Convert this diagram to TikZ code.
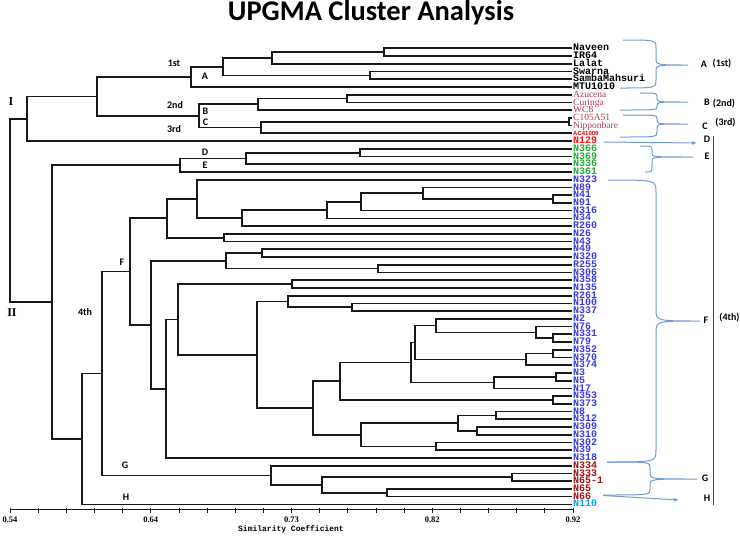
\documentclass[tikz,border=0pt]{standalone}
\usepackage{fontspec}
\setmainfont{Liberation Serif}
\newfontfamily\lmono{Liberation Mono}
\newfontfamily\carl{Carlito}
\newfontfamily\lsans{Liberation Sans}
\usetikzlibrary{calc,arrows.meta}
\definecolor{treec}{RGB}{25,25,25}
\definecolor{brc}{RGB}{115,155,212}
\definecolor{cazu}{RGB}{172,62,78}
\definecolor{cac}{RGB}{225,0,0}
\definecolor{cred}{RGB}{250,20,20}
\definecolor{cgrn}{RGB}{35,170,55}
\definecolor{cblu}{RGB}{60,60,222}
\definecolor{cdrd}{RGB}{160,18,18}
\definecolor{ccyn}{RGB}{0,168,238}
\tikzset{
  edge/.style={draw=treec, line width=1.7pt},
  leaf/.style={anchor=west, inner sep=0pt, xshift=1pt, text height=5.6pt, text depth=0.4pt},
  lblk/.style={font=\lmono\bfseries\fontsize{10}{10}\selectfont, text=black},
  lazu/.style={font=\fontsize{9.5}{9.5}\selectfont, text=cazu},
  lac/.style={font=\lsans\bfseries\fontsize{6}{6}\selectfont, text=cac, text height=4.3pt},
  lred/.style={font=\lmono\bfseries\fontsize{10}{10}\selectfont, text=cred},
  lgrn/.style={font=\lmono\bfseries\fontsize{10}{10}\selectfont, text=cgrn},
  lblu/.style={font=\lmono\bfseries\fontsize{10}{10}\selectfont, text=cblu},
  ldrd/.style={font=\lmono\bfseries\fontsize{10}{10}\selectfont, text=cdrd},
  lcyn/.style={font=\lmono\bfseries\fontsize{10}{10}\selectfont, text=ccyn},
  glab/.style={font=\carl\bfseries\fontsize{10}{10}\selectfont, inner sep=0pt},
  rlab/.style={font=\carl\bfseries\fontsize{10}{10}\selectfont, inner sep=0pt},
  roman/.style={font=\bfseries\fontsize{12}{12}\selectfont, inner sep=0pt},
  brace/.style={draw=brc, line width=1pt},
  arr/.style={draw=brc, line width=1pt, -{Latex[length=5pt,width=4pt]}},
  ticklab/.style={font=\bfseries\fontsize{8.5}{8.5}\selectfont, inner sep=0pt},
  axlab/.style={font=\lmono\bfseries\fontsize{8}{8}\selectfont, inner sep=0pt},
  title/.style={font=\carl\bfseries\fontsize{28.5}{28.5}\selectfont, inner sep=0pt}
}
\newcommand{\dgjoin}[4]{%
  \coordinate (m#1) at ($(#3)!0.5!(#4)$);
  \coordinate (#1) at (#2,0 |- m#1);
  \draw[edge] (#3) -| (#1) |- (#4);
}
\begin{document}
\begin{tikzpicture}[x=1pt,y=-1pt]
\fill[white] (0,0) rectangle (740,539);
\useasboundingbox (0,0) rectangle (740,539);
\node[title] (ttl) at (371,13) {UPGMA Cluster Analysis};
\foreach \i in {0,...,59} {\coordinate (L\i) at (572,{48.3+7.73*\i});}
% cluster I
\dgjoin{a1}{384}{L0}{L1}
\dgjoin{a2}{272}{a1}{L2}
\dgjoin{a3}{370}{L3}{L4}
\dgjoin{a4}{223}{a2}{a3}
\dgjoin{nA}{191}{a4}{L5}
\dgjoin{b1}{347}{L6}{L7}
\dgjoin{nB}{258}{b1}{L8}
\dgjoin{c1}{569}{L9}{L10}
\dgjoin{nC}{261}{c1}{L11}
\dgjoin{nBC}{199}{nB}{nC}
\dgjoin{a5}{97}{nA}{nBC}
\dgjoin{nI}{27}{a5}{L12}
% cluster E
\dgjoin{e1}{360}{L13}{L14}
\dgjoin{e2}{246}{e1}{L15}
\dgjoin{nE}{180}{e2}{L16}
% cluster F
\dgjoin{f1}{553}{L19}{L20}
\dgjoin{f2}{423}{L18}{f1}
\dgjoin{f3}{361}{f2}{L21}
\dgjoin{f4}{327}{f3}{L22}
\dgjoin{f5}{242}{f4}{L23}
\dgjoin{f6}{197}{L17}{f5}
\dgjoin{f7}{224}{L24}{L25}
\dgjoin{f8}{167}{f6}{f7}
\dgjoin{f9}{262}{L26}{L27}
\dgjoin{f10}{378}{L28}{L29}
\dgjoin{f11}{226}{f9}{f10}
\dgjoin{f12}{292}{L30}{L31}
\dgjoin{f13}{352}{L33}{L34}
\dgjoin{f14}{288}{L32}{f13}
\dgjoin{g1}{553}{L37}{L38}
\dgjoin{g2}{536}{L36}{g1}
\dgjoin{g3}{436}{L35}{g2}
\dgjoin{g4}{553}{L39}{L40}
\dgjoin{g5}{526}{g4}{L41}
\dgjoin{g6}{415}{g3}{g5}
\dgjoin{g7}{556}{L42}{L43}
\dgjoin{g8}{494}{g7}{L44}
\dgjoin{g9}{411}{g6}{g8}
\dgjoin{g10}{553}{L45}{L46}
\dgjoin{g11}{340}{g9}{g10}
\dgjoin{h1}{496}{L47}{L48}
\dgjoin{h2}{477}{L49}{L50}
\dgjoin{h3}{458}{h1}{h2}
\dgjoin{h4}{436}{L51}{L52}
\dgjoin{h5}{361}{h3}{h4}
\dgjoin{h6}{313}{g11}{h5}
\dgjoin{h7}{257}{f14}{h6}
\dgjoin{h8}{178}{f12}{h7}
\dgjoin{h9}{166}{h8}{L53}
\dgjoin{h10}{151}{f11}{h9}
\dgjoin{nF}{130}{f8}{h10}
% cluster G
\dgjoin{k1}{512}{L55}{L56}
\dgjoin{k2}{387}{L57}{L58}
\dgjoin{k3}{322}{k1}{k2}
\dgjoin{nG}{271}{L54}{k3}
\dgjoin{nFG}{102}{nF}{nG}
\dgjoin{nH}{82}{nFG}{L59}
\dgjoin{nII}{52}{nE}{nH}
\dgjoin{nroot}{10}{nI}{nII}
% leaf labels
\foreach \i/\t/\s in {0/Naveen/lblk,1/IR64/lblk,2/Lalat/lblk,3/Swarna/lblk,4/SambaMahsuri/lblk,5/MTU1010/lblk,
 6/Azucena/lazu,7/Curinga/lazu,8/WC8/lazu,9/C105A51/lazu,10/Nipponbare/lazu,11/AC41009/lac,12/N129/lred,
 13/N366/lgrn,14/N369/lgrn,15/N336/lgrn,16/N361/lgrn,
 17/N323/lblu,18/N89/lblu,19/N41/lblu,20/N91/lblu,21/N316/lblu,22/N34/lblu,23/R260/lblu,24/N26/lblu,25/N43/lblu,
 26/N49/lblu,27/N320/lblu,28/R255/lblu,29/N306/lblu,30/N358/lblu,31/N135/lblu,32/R261/lblu,33/N100/lblu,34/N337/lblu,
 35/N2/lblu,36/N76/lblu,37/N331/lblu,38/N79/lblu,39/N352/lblu,40/N370/lblu,41/N374/lblu,42/N3/lblu,43/N5/lblu,
 44/N17/lblu,45/N353/lblu,46/N373/lblu,47/N8/lblu,48/N312/lblu,49/N309/lblu,50/N310/lblu,51/N302/lblu,52/N39/lblu,
 53/N318/lblu,54/N334/ldrd,55/N333/ldrd,56/N65-1/ldrd,57/N65/ldrd,58/N66/ldrd,59/N110/lcyn}
 {\node[leaf,\s] (t\i) at (L\i) {\t};}
% tree labels
\node[roman] (lI) at (11,102) {I};
\node[roman] (lII) at (12,313) {II};
\node[glab] (l1st) at (174,63) {1st};
\node[glab] (lA) at (205,76) {A};
\node[glab] (l2nd) at (175,105.5) {2nd};
\node[glab] (lB) at (205.5,111.5) {B};
\node[glab] (lC) at (205.5,122) {C};
\node[glab] (l3rd) at (174,129) {3rd};
\node[glab] (lD) at (205,152) {D};
\node[glab] (lE) at (205,165) {E};
\node[glab] (lF) at (122,262) {F};
\node[glab] (l4th) at (85,312) {4th};
\node[glab] (lG) at (125,465) {G};
\node[glab] (lH) at (126,497.5) {H};
% braces and arrows
\draw[brace] (623,40) .. controls (656,40) .. (656,48) -- (656,58) .. controls (656,65) .. (688,65)
  .. controls (656,65) .. (656,72) -- (656,80) .. controls (656,88) .. (620,88);
\draw[brace] (640,93) .. controls (657,93) .. (657,97) -- (657,98) .. controls (657,102) .. (688,102)
  .. controls (657,102) .. (657,106) -- (657,106.5) .. controls (657,110) .. (620,110);
\draw[brace] (623,115) .. controls (657,115) .. (657,119) -- (657,120) .. controls (657,124) .. (688,124)
  .. controls (657,124) .. (657,128) -- (657,132) .. controls (657,137) .. (620,137);
\draw[brace] (640,146) .. controls (652,146) .. (652,150) -- (652,153) .. controls (652,157) .. (693,157)
  .. controls (652,157) .. (652,161) -- (652,166) .. controls (652,172) .. (645,172);
\draw[brace] (608,180) .. controls (656,180) .. (656,192) -- (656,309) .. controls (656,321) .. (700,321)
  .. controls (656,321) .. (656,333) -- (656,450) .. controls (656,462) .. (607,462);
\draw[brace] (607,462) .. controls (650,462) .. (650,468) -- (650,473) .. controls (650,479) .. (697,479)
  .. controls (650,479) .. (650,485) -- (650,489) .. controls (650,495) .. (603,495);
\coordinate (dS) at (604,142);
\coordinate (dE) at (697,143);
\draw[arr] (dS) -- (dE);
\coordinate (hS) at (603,495.5);
\coordinate (hE) at (679,500);
\draw[arr] (hS) -- (hE);
\coordinate (vT) at (713,136);
\coordinate (vB) at (713,505);
\draw[draw=treec!80, line width=1pt] (vT) -- (vB);
% right labels
\node[rlab] (rA) at (704,64) {A};
\node[rlab] (r1) at (722,64) {(1st)};
\node[rlab] (rB) at (707,102) {B};
\node[rlab] (r2) at (724,104) {(2nd)};
\node[rlab] (rC) at (705,126) {C};
\node[rlab] (r3) at (725.5,123) {(3rd)};
\node[rlab] (rD) at (707,139) {D};
\node[rlab] (rE) at (707,156) {E};
\node[rlab] (rF) at (706,320.5) {F};
\node[rlab] (r4) at (729.5,318) {(4th)};
\node[rlab] (rG) at (705,478) {G};
\node[rlab] (rH) at (707,498) {H};
% axis
\coordinate (ax0) at (10,509);
\coordinate (ax1) at (573,509);
\draw[draw=treec, line width=1pt] (ax0) -- (ax1);
\foreach \k in {0,...,20} {\draw[draw=treec, line width=0.8pt] ({10+28.15*\k},507.5) -- ++(0,5.5);}
\node[ticklab] (x1) at (10,520) {0.54};
\node[ticklab] (x2) at (150.8,520) {0.64};
\node[ticklab] (x3) at (291.5,520) {0.73};
\node[ticklab] (x4) at (432.3,520) {0.82};
\node[ticklab] (x5) at (573,520) {0.92};
\node[axlab] (xt) at (291,529.5) {Similarity Coefficient};
\end{tikzpicture}
\end{document}
